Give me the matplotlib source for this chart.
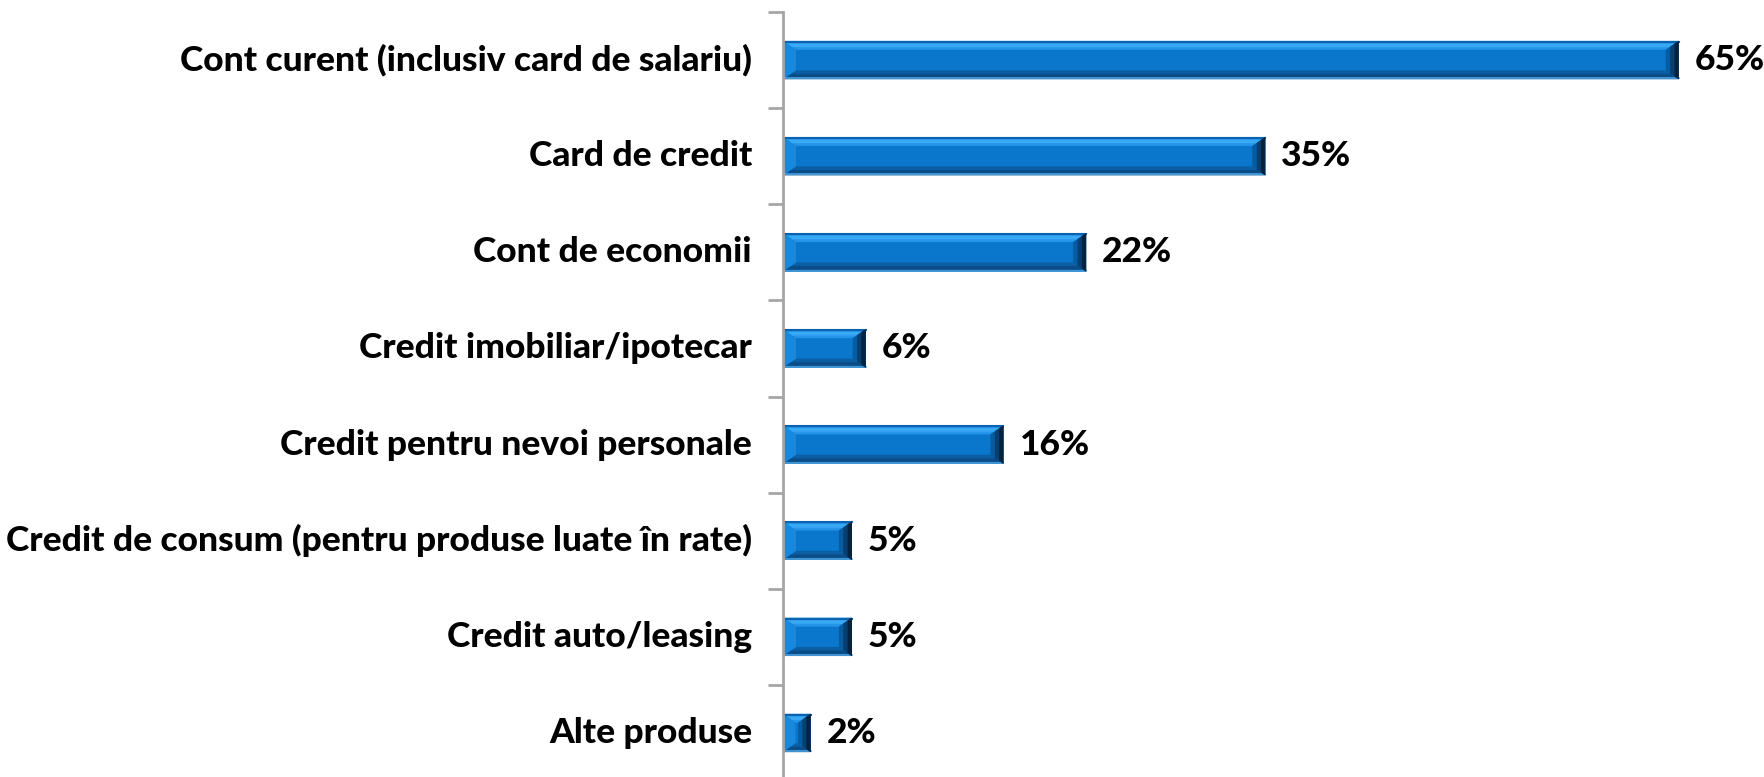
import numpy as np
import matplotlib.pyplot as plt
from matplotlib.patches import Polygon

categories = ['Cont curent (inclusiv card de salariu)', 'Card de credit',
              'Cont de economii', 'Credit imobiliar/ipotecar',
              'Credit pentru nevoi personale',
              'Credit de consum (pentru produse luate în rate)',
              'Credit auto/leasing', 'Alte produse']
values = [65, 35, 22, 6, 16, 5, 5, 2]

W, H = 1765, 777
fig = plt.figure(figsize=(W / 100, H / 100), dpi=100)
ax = fig.add_axes([783 / W, -4 / H, (W - 783) / W, 769 / H])

xmax = (W - 783) / 13.78
ax.set_xlim(0, xmax)
ax.set_ylim(len(values) - 0.5, -0.5)

bar_h = 0.4
ypos = np.arange(len(values))
ax.barh(ypos, values, height=bar_h, color='#0A76CC', edgecolor='none', zorder=2)

# bevel faces, sized in pixels and converted to data units
px_x = xmax / (W - 783)
px_y = len(values) / 769


def face(pts, c, z=3):
    ax.add_patch(Polygon(pts, closed=True, facecolor=c, edgecolor='none', zorder=z))


bx, by = 13 * px_x, 9 * px_y
for y, v in zip(ypos, values):
    x0, x1 = 0, v
    yt, yb = y - bar_h / 2, y + bar_h / 2
    d = min(bx, v / 2 * 0.9)
    # top band
    face([(x0, yt), (x1, yt), (x1 - d, yt + by), (x0 + d, yt + by)], '#2495E8')
    face([(x0 + d * 0.3, yt + by * 0.3), (x1 - d * 0.3, yt + by * 0.3),
          (x1 - d * 0.7, yt + by * 0.7), (x0 + d * 0.7, yt + by * 0.7)], '#39A8F5', 4)
    ax.plot([x0, x1], [yt + px_y, yt + px_y], color='#0C62AE', lw=1.5, zorder=5)
    # bottom band
    face([(x0, yb), (x1, yb), (x1 - d, yb - by), (x0 + d, yb - by)], '#0B5EA3')
    face([(x0 + d * 0.25, yb - by * 0.25), (x1 - d * 0.25, yb - by * 0.25),
          (x1 - d * 0.6, yb - by * 0.6), (x0 + d * 0.6, yb - by * 0.6)], '#0A4C86', 4)
    ax.plot([x0, x1], [yb - px_y, yb - px_y], color='#4C9FDB', lw=1.2, zorder=5)
    # left end
    face([(x0, yt), (x0 + d, yt + by), (x0 + d, yb - by), (x0, yb)], '#1987DA', 4)
    # right end, darkening towards the edge
    for f, c in [(1.0, '#075BA0'), (0.66, '#063F72'), (0.33, '#04233F')]:
        face([(x1, yt), (x1 - d * f, yt + by * f), (x1 - d * f, yb - by * f), (x1, yb)], c, 6)
    ax.text(v + 16 * px_x, y, f'{v}%', va='center', ha='left',
            fontsize=25.5, fontweight=900, family='Lato', color='black')

for y, name in zip(ypos, categories):
    ax.text(-31 * px_x, y, name, va='center', ha='right',
            fontsize=25.5, fontweight=900, family='Lato', color='black')

for s in ['top', 'right', 'bottom']:
    ax.spines[s].set_visible(False)
ax.spines['left'].set_color('#A6A6A6')
ax.spines['left'].set_linewidth(2)
ax.spines['left'].set_zorder(7)
ax.set_xticks([])
ax.set_yticks(np.arange(-0.5, len(values), 1))
ax.set_yticklabels([])
ax.tick_params(axis='y', direction='out', length=11, width=2, color='#A6A6A6')

fig.savefig('out.png', dpi=100)
